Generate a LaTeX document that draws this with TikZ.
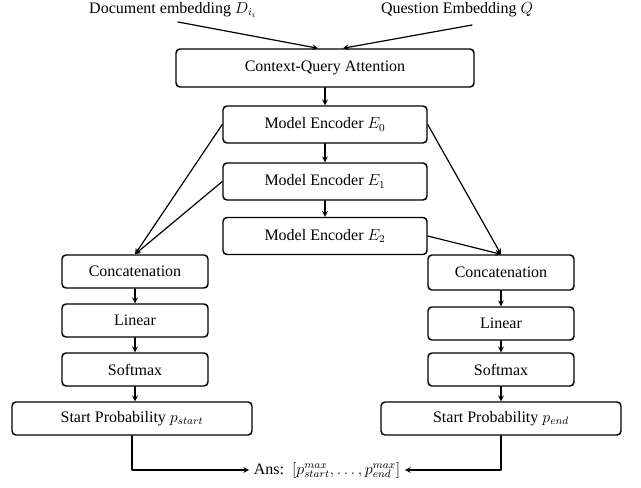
\documentclass[tikz,border=0pt]{standalone}
\usepackage{fontspec}
\setmainfont{Liberation Serif}
\begin{document}
\begin{tikzpicture}[>=stealth,line join=round,line cap=round,x=0.75pt,y=-0.75pt,
    font=\fontsize{12}{14}\selectfont,
    blk/.style={draw,rounded corners=3pt,line width=1.1pt,inner sep=0pt,minimum height=33*0.75pt},
    lnk/.style={->,line width=0.9pt}]
                \useasboundingbox (0,0) rectangle (641,487);
                % inputs
                \node (doc) at (173,10) {Document embedding $D_{i_i}$};
                \node (qst) at (457,10) {Question Embedding $Q$};
                \coordinate (docout) at (178,22);
                \coordinate (qstout) at (472,25);
                % encoder stack
                \node[blk,minimum width=298*0.75pt,minimum height=38*0.75pt] (cqa) at (325,68) {Context-Query Attention};
                \node[blk,minimum width=204*0.75pt,minimum height=37*0.75pt] (enc0) at (325,124.5) {Model Encoder $E_0$};
                \node[blk,minimum width=204*0.75pt,minimum height=37*0.75pt] (enc1) at (325,181.5) {Model Encoder $E_1$};
                \node[blk,minimum width=204*0.75pt,minimum height=37*0.75pt] (enc2) at (325,236) {Model Encoder $E_2$};
                % start branch
                \node[blk,minimum width=146*0.75pt] (catL) at (135,271.5) {Concatenation};
                \node[blk,minimum width=146*0.75pt] (linL) at (135,320.5) {Linear};
                \node[blk,minimum width=146*0.75pt] (smL) at (135,369.5) {Softmax};
                \node[blk,minimum width=240*0.75pt] (startL) at (132,418.5) {Start Probability $p_{start}$};
                % end branch
                \node[blk,minimum width=146*0.75pt,minimum height=35*0.75pt] (catR) at (501,272.5) {Concatenation};
                \node[blk,minimum width=146*0.75pt] (linR) at (501,323.5) {Linear};
                \node[blk,minimum width=146*0.75pt] (smR) at (501,369.5) {Softmax};
                \node[blk,minimum width=240*0.75pt] (startR) at (501,418.5) {Start Probability $p_{end}$};
                % answer
                \node (ans) at (327,470) {Ans:\, $[p_{start}^{max},\dots,p_{end}^{max}]$};
                % connectors
                \draw[lnk] (docout) -- ([xshift=-5.25pt]cqa.north);
                \draw[lnk] (qstout) -- ([xshift=13.5pt]cqa.north);
                \draw[lnk] (cqa) -- (enc0);
                \draw[lnk] (enc0) -- (enc1);
                \draw[lnk] (enc1) -- (enc2);
                \draw[lnk] (enc0.west) -- (catL.north);
                \draw[lnk] (enc1.west) -- (catL.north);
                \draw[lnk] (enc0.east) -- (catR.north);
                \draw[lnk] (enc2.east) -- (catR.north);
                \draw[lnk] (catL) -- (linL);
                \draw[lnk] (linL) -- (smL);
                \draw[lnk] (smL) -- (smL|-startL.north);
                \draw[lnk] (catR) -- (linR);
                \draw[lnk] (linR) -- (smR);
                \draw[lnk] (smR) -- (startR);
                \draw[lnk] (startL.south) |- (ans.west);
                \draw[lnk] (startR.south) |- (ans.east);
\end{tikzpicture}
\end{document}
